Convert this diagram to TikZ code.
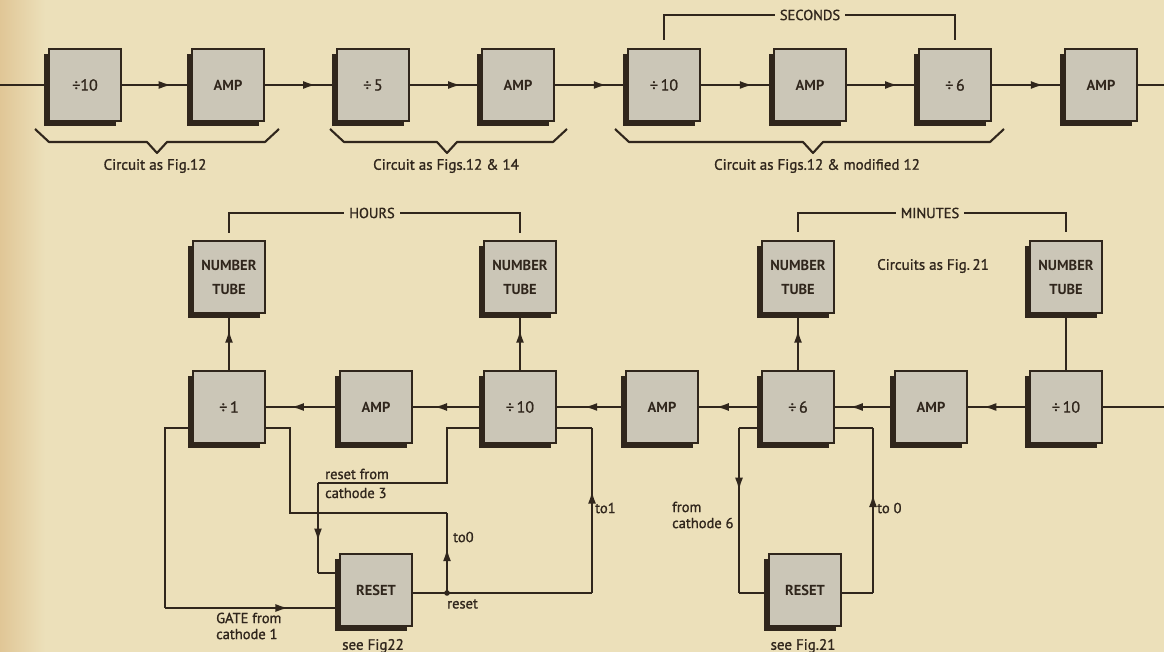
\documentclass[tikz,border=0pt]{standalone}
\usepackage{fontspec}
\setmainfont{PT Sans}
\newfontfamily\letfont[FakeBold=1.2]{PT Sans}
\usetikzlibrary{arrows.meta,decorations.markings,shadows,calc}
\definecolor{bg}{RGB}{236,224,186}
\definecolor{bgedge}{RGB}{224,198,150}
\definecolor{boxfill}{RGB}{203,198,183}
\definecolor{ink}{RGB}{48,38,28}
\tikzset{
  blk/.style={draw=ink, line width=2.2pt, fill=boxfill, minimum width=72pt, minimum height=72pt,
    inner sep=0pt, align=center, font=\fontsize{14.5}{24}\selectfont\bfseries, text=ink,
    drop shadow={shadow xshift=-5pt, shadow yshift=-5pt, fill=ink, opacity=1}},
  dv/.style={font=\fontsize{16}{20}\selectfont\letfont},
  wire/.style={draw=ink, line width=2.1pt, line join=miter},
  marr/.style={wire, postaction={decorate},
    decoration={markings, mark=at position #1 with {\arrow{Latex[length=13pt,width=8pt]}}}},
  lbl/.style={font=\fontsize{14.5}{16}\selectfont\letfont, text=ink, inner sep=0pt, anchor=west},
  captxt/.style={font=\fontsize{15}{16}\selectfont\letfont, text=ink, inner sep=0pt},
  hdr/.style={font=\fontsize{14.5}{16}\selectfont\letfont, text=ink, fill=bg, inner xsep=5pt, inner ysep=1pt},
  brace/.style={draw=ink, line width=2.1pt, line join=round}
}
\begin{document}
\begin{tikzpicture}[x=1pt,y=-1pt]
\useasboundingbox (0,0) rectangle (1164,652);
\fill[bg] (0,0) rectangle (1164,652);
\shade[left color=bgedge, right color=bg] (0,0) rectangle (45,652);

% ---------- top row ----------
\node[blk,dv] (T1) at (85,85) {÷10};
\node[blk] (T2) at (228,85) {AMP};
\node[blk,dv] (T3) at (373,85) {÷\,5};
\node[blk] (T4) at (518,85) {AMP};
\node[blk,dv] (T5) at (664,85) {÷\,10};
\node[blk] (T6) at (810,85) {AMP};
\node[blk,dv] (T7) at (955,85) {÷\,6};
\node[blk] (T8) at (1101,85) {AMP};

\coordinate (inL) at (0,85);
\coordinate (outR) at (1164,85);
\draw[wire] (inL) -- (T1.west);
\draw[marr=0.72] (T1.east) -- (T2.west);
\draw[marr=0.72] (T2.east) -- (T3.west);
\draw[marr=0.72] (T3.east) -- (T4.west);
\draw[marr=0.72] (T4.east) -- (T5.west);
\draw[marr=0.72] (T5.east) -- (T6.west);
\draw[marr=0.72] (T6.east) -- (T7.west);
\draw[marr=0.72] (T7.east) -- (T8.west);
\draw[wire] (T8.east) -- (outR);

% braces
\draw[brace] (35,129) -- (49,142) -- (147,142) -- (157,153) -- (167,142) -- (265,142) -- (279,129);
\draw[brace] (330,129) -- (344,142) -- (437,142) -- (447,153) -- (457,142) -- (553,142) -- (567,129);
\draw[brace] (615,129) -- (629,142) -- (803,142) -- (813,153) -- (823,142) -- (990,142) -- (1004,129);
\node[captxt] (c1) at (155,166) {Circuit as Fig.12};
\node[captxt] (c2) at (446,166) {Circuit as Figs.12 \& 14};
\node[captxt] (c3) at (817,166) {Circuit as Figs.12 \& modified 12};

% SECONDS bracket
\draw[wire] (664,40) -- (664,15) -- (955,15) -- (955,40);
\node[hdr] (sec) at (810,15) {SECONDS};

% ---------- lower row ----------
\node[blk] (N1) at (229,277) {NUMBER\\TUBE};
\node[blk] (N2) at (520,277) {NUMBER\\TUBE};
\node[blk] (N3) at (798,277) {NUMBER\\TUBE};
\node[blk] (N4) at (1066,277) {NUMBER\\TUBE};

\node[blk,dv] (B1) at (229,407) {÷\,1};
\node[blk] (B2) at (376,407) {AMP};
\node[blk,dv] (B3) at (520,407) {÷\,10};
\node[blk] (B4) at (662,407) {AMP};
\node[blk,dv] (B5) at (798,407) {÷\,6};
\node[blk] (B6) at (931,407) {AMP};
\node[blk,dv] (B7) at (1066,407) {÷\,10};

\node[blk] (RH) at (376,590) {RESET};
\node[blk] (RM) at (805,590) {RESET};

% brackets HOURS / MINUTES
\draw[wire] (229,233) -- (229,213) -- (520,213) -- (520,233);
\node[hdr] (hrs) at (372,213) {HOURS};
\draw[wire] (798,232) -- (798,213) -- (1066,213) -- (1066,232);
\node[hdr] (min) at (930,213) {MINUTES};
\node[captxt] (cf) at (933,266) {Circuits as Fig.\,21};

% divider -> number tube
\draw[marr=0.72] (B1.north) -- (N1.south);
\draw[marr=0.72] (B3.north) -- (N2.south);
\draw[marr=0.72] (B5.north) -- (N3.south);
\draw[wire] (B7.north) -- (N4.south);

% lower chain (right to left)
\coordinate (inR2) at (1164,407);
\draw[wire] (inR2) -- (B7.east);
\draw[marr=0.75] (B7.west) -- (B6.east);
\draw[marr=0.75] (B6.west) -- (B5.east);
\draw[marr=0.73] (B5.west) -- (B4.east);
\draw[marr=0.6] (B4.west) -- (B3.east);
\draw[marr=0.7] (B3.west) -- (B2.east);
\draw[marr=0.66] (B2.west) -- (B1.east);

% ---------- hours reset circuit ----------
\coordinate (b1l) at ($(B1.west)+(0,21)$);
\coordinate (b1r) at ($(B1.east)+(0,21)$);
\coordinate (b3l) at ($(B3.west)+(0,21)$);
\coordinate (b3r) at ($(B3.east)+(0,21)$);
\coordinate (rhl1) at ($(RH.west)+(0,-17)$);
\coordinate (rhl2) at ($(RH.west)+(0,18)$);
\coordinate (rhr) at ($(RH.east)+(0,3)$);

% GATE from cathode 1
\coordinate (g1) at (165,428);
\coordinate (g2) at (165,608);
\draw[wire] (b1l) -- (g1) -- (g2);
\draw[marr=0.71] (g2) -- (rhl2);

% reset output: to 0 and to 1
\coordinate (J) at (447,593);
\coordinate (k1) at (592,593);
\coordinate (k2) at (592,428);
\draw[wire] (rhr) -- (J) -- (k1);
\draw[marr=0.62] (k1) -- (k2);
\draw[wire] (k2) -- (b3r);
\fill[ink] (J) circle (2.8pt);
\coordinate (t1) at (447,513);
\coordinate (t2) at (290,513);
\coordinate (t3) at (290,428);
\draw[marr=0.56] (J) -- (t1);
\draw[wire] (t1) -- (t2) -- (t3) -- (b1r);

% reset from cathode 3
\coordinate (r1) at (447,428);
\coordinate (r2) at (447,483);
\coordinate (r3) at (318,483);
\coordinate (r4) at (318,573);
\draw[wire] (b3l) -- (r1) -- (r2) -- (r3);
\draw[marr=0.65] (r3) -- (r4);
\draw[wire] (r4) -- (rhl1);

\node[lbl] (l1) at (325,474) {reset from};
\node[lbl] (l2) at (325,493) {cathode 3};
\node[lbl] (l3) at (453,537) {to0};
\node[lbl] (l4) at (595,508) {to1};
\node[lbl] (l5) at (447,604) {reset};
\node[lbl] (l6) at (216,618) {GATE from};
\node[lbl] (l7) at (216,634) {cathode 1};
\node[captxt] (l8) at (373,646) {see Fig22};

% ---------- minutes reset circuit ----------
\coordinate (b5l) at ($(B5.west)+(0,21)$);
\coordinate (b5r) at ($(B5.east)+(0,21)$);
\coordinate (rml) at ($(RM.west)+(0,3)$);
\coordinate (rmr) at ($(RM.east)+(0,3)$);
\coordinate (m1) at (739,428);
\coordinate (m2) at (739,593);
\coordinate (m3) at (873,593);
\coordinate (m4) at (873,428);
\draw[wire] (b5l) -- (m1);
\draw[marr=0.38] (m1) -- (m2);
\draw[wire] (m2) -- (rml);
\draw[wire] (rmr) -- (m3);
\draw[marr=0.6] (m3) -- (m4);
\draw[wire] (m4) -- (b5r);

\node[lbl] (l9) at (672,507) {from};
\node[lbl] (l10) at (672,523) {cathode 6};
\node[lbl] (l11) at (877,508) {to 0};
\node[captxt] (l12) at (803,646) {see Fig.21};
\end{tikzpicture}
\end{document}
